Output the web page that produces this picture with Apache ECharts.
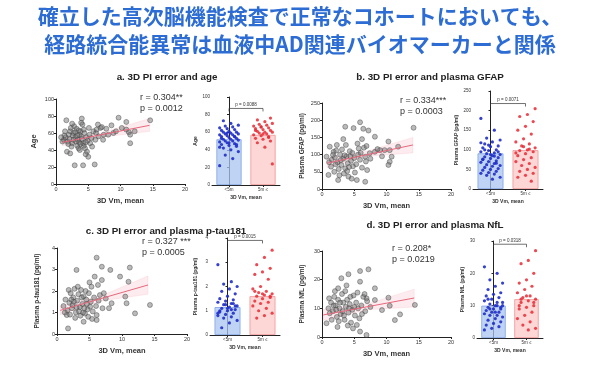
<!DOCTYPE html>
<html><head><meta charset="utf-8">
<script src="https://cdn.jsdelivr.net/npm/echarts/dist/echarts.min.js"></script>
<style>html,body{margin:0;padding:0;background:#fff}#c{width:600px;height:368px}</style>
</head><body><div id="c"></div>
<script>
const titleLines = ['確立した高次脳機能検査で正常なコホートにおいても、', '経路統合能異常は血液中AD関連バイオマーカーと関係'];
const panelTitles = ['a. 3D PI error and age', 'b. 3D PI error and plasma GFAP', 'c. 3D PI error and plasma p-tau181', 'd. 3D PI error and plasma NfL'];
const yNames = ['Age', 'Plasma GFAP (pg/ml)', 'Plasma p-tau181 (pg/ml)', 'Plasma NfL (pg/ml)'];
const xName = '3D Vm, mean';
const groupCats = ['<5m', '5m ≤'];
const rTexts = ['r = 0.304**', 'r = 0.334***', 'r = 0.327 ***', 'r = 0.208*'];
const pTexts = ['p = 0.0012', 'p = 0.0003', 'p = 0.0005', 'p = 0.0219'];
const groupPTexts = ['p = 0.0088', 'p = 0.0071', 'p = 0.0015', 'p = 0.0318'];
const yMax = [100, 250, 4, 30];
const yStep = [20, 50, 1, 10];
const xMax = 20, xStep = 5;

const scatterA = [[1.2,52],[1.5,55],[1.8,50],[2.0,58],[2.2,62],[2.5,48],[2.7,60],[3.0,55],[3.2,65],[3.4,52],[3.6,58],[3.8,62],[4.0,77],[4.1,70],[3.9,72],[1.6,75],[2.8,68],[3.3,45],[3.5,42],[3.7,40],[4.2,48],[4.5,42],[4.8,38],[5.0,32],[4.6,35],[4.3,45],[2.4,44],[1.7,38],[2.2,36],[2.9,22],[4.2,22],[6.0,23],[1.0,50],[1.3,57],[2.1,53],[2.6,57],[3.1,50],[3.5,63],[3.9,56],[4.4,60],[4.7,55],[5.2,58],[5.5,54],[5.3,48],[5.8,62],[6.2,60],[6.3,64],[6.6,56],[6.9,66],[7.1,67],[7.4,58],[7.8,65],[7.3,52],[8.1,58],[8.6,69],[8.9,60],[9.7,78],[10.2,66],[10.9,73],[10.9,64],[11.3,61],[11.5,58],[11.5,48],[12.2,62],[14.6,75],[0.8,55],[1.9,47],[2.3,66],[3.0,61],[3.6,49],[4.0,53],[4.9,51],[5.6,44],[6.1,52],[2.7,52],[3.3,57],[4.3,64],[5.1,66],[1.4,62],[2.5,71],[3.8,47],[4.6,49],[6.5,70],[9.3,62]];
const scatterB = [[3.6,181],[4.9,177],[5.9,194],[6.4,175],[7.2,170],[3.3,145],[6.2,145],[8.2,152],[10.3,138],[14.2,178],[11.8,123],[10.5,113],[9.7,113],[9.0,113],[8.2,108],[7.4,104],[6.7,94],[10.8,94],[10.5,79],[10.3,70],[6.7,21],[5.4,26],[4.1,36],[2.5,26],[1.0,41],[0.7,94],[1.2,123],[2.3,128],[1.8,108],[1.5,85],[2.0,92],[2.4,78],[2.8,100],[3.0,70],[3.3,88],[3.6,60],[3.8,95],[4.0,75],[4.3,110],[4.5,82],[4.8,66],[5.0,90],[5.3,72],[5.6,100],[5.9,85],[6.2,62],[6.5,120],[6.8,80],[7.0,55],[1.4,65],[1.9,50],[2.6,58],[3.1,115],[3.4,45],[3.9,52],[4.4,95],[5.1,48],[5.7,118],[6.0,105],[7.5,88],[2.1,72],[2.9,84],[3.5,98],[4.2,64],[4.7,105],[1.1,78],[1.7,99],[2.2,112],[3.7,128],[5.5,132],[6.9,125],[8.6,116],[9.3,95],[2.7,40],[4.6,30]];
const scatterC = [[6.1,3.55],[3.0,2.98],[6.9,3.13],[8.2,2.98],[9.7,2.67],[11.2,3.09],[11.0,2.43],[5.8,2.67],[6.9,2.51],[6.3,2.28],[5.3,2.2],[6.6,1.81],[8.4,1.43],[10.7,1.43],[12.0,0.96],[14.3,1.35],[10.5,1.74],[5.1,1.27],[6.1,0.88],[6.1,0.65],[1.7,0.26],[1.5,0.88],[4.1,0.57],[1.0,1.3],[1.3,1.6],[1.6,1.1],[1.9,1.45],[2.1,1.9],[2.3,1.2],[2.5,1.7],[2.7,2.1],[2.9,1.0],[3.1,1.55],[3.3,1.85],[3.5,1.25],[3.7,2.05],[3.9,1.4],[4.1,1.75],[4.3,0.95],[4.5,1.6],[4.7,1.15],[4.9,1.9],[5.2,1.5],[5.5,1.05],[5.7,1.7],[6.0,1.3],[6.4,1.55],[7.0,1.2],[7.5,1.65],[2.0,0.9],[2.4,1.35],[2.8,0.75],[3.2,2.2],[3.6,0.85],[4.0,1.0],[4.4,2.0],[4.8,0.8],[1.2,1.0],[1.8,2.05],[2.6,1.5],[3.4,1.05],[3.8,1.7],[4.6,1.4],[5.0,2.4],[5.4,0.7],[7.2,1.9],[8.0,1.2],[2.2,1.6],[3.0,1.25],[4.2,1.2]];
const scatterD = [[3.0,20.5],[4.1,21.9],[5.9,23],[7.2,23.6],[2.5,17],[5.9,19.3],[8.2,17],[6.9,13.5],[8.2,12.9],[10.3,13.7],[10.5,10.9],[9.3,9.4],[12.1,7.9],[11.3,5.9],[14.4,11.2],[5.9,1.9],[6.9,0.7],[5.4,4.2],[0.7,4.8],[1.2,8.3],[1.0,10],[1.4,12],[1.7,9],[1.9,14],[2.1,11],[2.3,7],[2.5,13],[2.7,10],[2.9,8],[3.1,15],[3.3,12],[3.5,6],[3.7,10.5],[3.9,13],[4.1,8.5],[4.3,11.5],[4.5,5],[4.7,9.5],[4.9,14.5],[5.1,7.5],[5.3,12],[5.6,10],[5.8,6.5],[6.1,11],[6.4,14],[6.7,9],[7.0,12.5],[1.5,6],[2.0,16],[2.6,5.5],[3.2,9],[3.6,16],[4.0,4],[4.4,14],[4.8,3],[5.0,10.5],[5.5,15.5],[6.2,8],[2.2,9.5],[2.8,12],[3.4,7.5],[4.2,10],[1.1,13.5],[1.8,11],[6.6,15],[7.5,10.5],[3.8,18],[2.4,3.5]];

const regA = [[1.0,49],[14.5,69]];
const regB = [[0.8,75],[14.1,128]];
const regC = [[0.5,1.1],[14.0,2.28]];
const regD = [[0.2,7.7],[14.3,13.6]];
const bandLoA = [[1.0,45],[7,55],[14.5,62]], bandHiA = [[1.0,53],[7,60],[14.5,77]];
const bandLoB = [[0.8,62],[7,95],[14.1,105]], bandHiB = [[0.8,88],[7,110],[14.1,150]];
const bandLoC = [[0.5,0.9],[7,1.55],[14.0,1.85]], bandHiC = [[0.5,1.3],[7,1.8],[14.0,2.7]];
const bandLoD = [[0.2,5.8],[7,9.5],[14.3,10.5]], bandHiD = [[0.2,9.6],[7,11.5],[14.3,16.7]];

const barA = [52, 57], barB = [91, 99], barC = [1.15, 1.6], barD = [10, 12];
const bracketY = [87, 218, 3.9, 29];
const dotsALo = [22,30,34,38,40,42,44,45,46,47,48,49,50,50,51,52,52,53,54,55,55,56,57,57,58,58,59,60,60,61,62,63,64,65,66,67,68,70,73,46,48,53,55,59,43];
const dotsAHi = [24,43,48,50,52,53,55,56,57,58,59,60,60,61,62,63,64,65,66,67,68,69,70,72,74,76,58,62,54,66];
const dotsBLo = [180,150,130,125,120,115,110,108,105,100,98,95,92,90,88,85,82,80,78,75,72,70,68,65,62,60,58,55,52,50,48,45,42,40,38,35,30,25,100,95,88,76,66,112,118,84];
const dotsBHi = [205,190,185,172,160,150,140,128,120,115,110,105,100,98,95,90,85,80,75,70,65,60,55,50,45,40,35,30,20,108,92,102];
const dotsCLo = [2.9,2.2,2.1,2.0,1.9,1.8,1.7,1.6,1.5,1.45,1.4,1.35,1.3,1.25,1.2,1.15,1.1,1.05,1.0,0.95,0.9,0.85,0.8,0.75,0.7,0.6,0.5,0.3,1.2,1.1,1.0,1.3,1.25,0.9,1.05];
const dotsCHi = [3.5,3.2,2.9,2.75,2.6,2.5,2.3,2.0,1.9,1.8,1.75,1.7,1.65,1.6,1.55,1.5,1.4,1.35,1.3,1.2,1.1,1.0,0.9,0.8,0.7,1.6,1.7,1.8];
const dotsDLo = [22,20,18,17,16,15,14,13.5,13,12.5,12,11.5,11,10.5,10,10,9.5,9,9,8.5,8,8,7.5,7,7,6.5,6,5.5,5,4.5,4,3.5,3,2.5,10,9,11,8,12,9.5];
const dotsDHi = [27,24,23,20,18,17,16,15,14,13,12.5,12,11.5,11,10,9.5,9,8,7,6,5,4,3,2.5,12,11,13,10];

const panels = [
  {sc: scatterA, reg: regA, lo: bandLoA, hi: bandHiA, bar: barA, dLo: dotsALo, dHi: dotsAHi},
  {sc: scatterB, reg: regB, lo: bandLoB, hi: bandHiB, bar: barB, dLo: dotsBLo, dHi: dotsBHi},
  {sc: scatterC, reg: regC, lo: bandLoC, hi: bandHiC, bar: barC, dLo: dotsCLo, dHi: dotsCHi},
  {sc: scatterD, reg: regD, lo: bandLoD, hi: bandHiD, bar: barD, dLo: dotsDLo, dHi: dotsDHi}
];

// layout (pixels)
const scGrids = [{left:56,top:99,width:129,height:85},{left:322,top:103,width:129,height:86},{left:57,top:248,width:130,height:86},{left:322,top:251,width:129,height:86}];
const barGrids = [{left:212,top:97,width:68,height:88},{left:473,top:91,width:70,height:98},{left:210,top:238,width:70,height:97},{left:477,top:241,width:66,height:97}];
const titlePos = [[167,72],[430,72],[166,226],[435,220]];
const statPos = [[140,92],[400,95],[142,236],[392,243]];

const FONT = 'Liberation Sans, Arial, sans-serif';
const axisBase = {
  axisLine: {lineStyle: {color: '#222', width: 1}},
  axisTick: {show: true, length: 2, lineStyle: {color: '#222'}},
  axisLabel: {fontSize: 5.5, color: '#333', margin: 2, fontFamily: FONT},
  splitLine: {show: false}
};

const grid = [], xAxis = [], yAxis = [], series = [];
const title = [
  {text: titleLines[0], left: 300, top: 6, padding: 0, textAlign: 'center', textStyle: {fontFamily: 'Noto Sans CJK JP', fontWeight: 'bold', fontSize: 21, color: '#2d6dd3'}},
  {text: titleLines[1], left: 300, top: 34, padding: 0, textAlign: 'center', textStyle: {fontFamily: 'Noto Sans CJK JP', fontWeight: 'bold', fontSize: 21, color: '#2d6dd3'}}
];

function jitter(i) {
  const k = ((i * 7) % 11) - 5;
  return k * 0.055;
}

panels.forEach((p, k) => {
  grid.push(scGrids[k]);
  grid.push(barGrids[k]);
  const gS = 2 * k, gB = 2 * k + 1;
  xAxis.push(Object.assign({}, axisBase, {type: 'value', gridIndex: gS, min: 0, max: xMax, interval: xStep,
    name: xName, nameLocation: 'middle', nameGap: 13, nameTextStyle: {fontSize: 7.5, fontWeight: 'bold', color: '#333', fontFamily: FONT}}));
  xAxis.push(Object.assign({}, axisBase, {type: 'category', gridIndex: gB, data: groupCats,
    axisTick: {show: true, length: 2, alignWithLabel: true, lineStyle: {color: '#222'}},
    axisLabel: {fontSize: 4.5, color: '#333', margin: 2, fontFamily: FONT},
    name: xName, nameLocation: 'middle', nameGap: 10, nameTextStyle: {fontSize: 5, fontWeight: 'bold', color: '#333', fontFamily: FONT}}));
  xAxis.push({type: 'value', gridIndex: gB, min: -0.5, max: 1.5, show: false});
  yAxis.push(Object.assign({}, axisBase, {type: 'value', gridIndex: gS, min: 0, max: yMax[k], interval: yStep[k],
    name: yNames[k], nameLocation: 'middle', nameGap: k === 0 ? 18 : 16, nameRotate: 90,
    nameTextStyle: {fontSize: k === 0 ? 7.5 : 6.5, fontWeight: 'bold', color: '#333', fontFamily: FONT}}));
  yAxis.push(Object.assign({}, axisBase, {type: 'value', gridIndex: gB, min: 0, max: yMax[k], interval: yStep[k],
    axisLabel: {fontSize: 4.5, color: '#333', margin: 2, fontFamily: FONT},
    name: yNames[k], nameLocation: 'middle', nameGap: 12, nameRotate: 90,
    nameTextStyle: {fontSize: 5, fontWeight: 'bold', color: '#333', fontFamily: FONT}}));

  const xS = 3 * k, xB = 3 * k + 1, xD = 3 * k + 2, yS = 2 * k, yB = 2 * k + 1;
  // CI band as polygon through the library's coordinate system
  series.push({type: 'custom', xAxisIndex: xS, yAxisIndex: yS, data: p.lo, silent: true, z: 1,
    renderItem: (params, api) => {
      if (params.dataIndex !== 0) return null;
      const pts = p.lo.map(d => api.coord(d)).concat(p.hi.slice().reverse().map(d => api.coord(d)));
      return {type: 'polygon', shape: {points: pts}, style: {fill: 'rgba(240,120,140,0.14)', stroke: 'rgba(240,120,140,0.25)', lineWidth: 0.5}};
    }});
  series.push({type: 'scatter', xAxisIndex: xS, yAxisIndex: yS, data: p.sc, symbolSize: 5,
    itemStyle: {color: 'rgba(110,110,110,0.6)', borderColor: 'rgba(60,60,60,0.9)', borderWidth: 0.6}, z: 2});
  series.push({type: 'line', xAxisIndex: xS, yAxisIndex: yS, data: p.reg, symbol: 'none',
    lineStyle: {color: '#e8687c', width: 1}, z: 3});
  // bars
  series.push({type: 'bar', xAxisIndex: xB, yAxisIndex: yB, barWidth: '74%', z: 1,
    data: [
      {value: p.bar[0], itemStyle: {color: 'rgba(170,198,242,0.75)', borderColor: '#7fa3e6', borderWidth: 0.8}},
      {value: p.bar[1], itemStyle: {color: 'rgba(252,200,200,0.75)', borderColor: '#f09494', borderWidth: 0.8}}
    ]});
  series.push({type: 'scatter', xAxisIndex: xD, yAxisIndex: yB, symbolSize: 3.2, z: 3,
    data: p.dLo.map((v, i) => [0 + jitter(i), v]),
    itemStyle: {color: '#1f2ec8', opacity: 0.9}});
  series.push({type: 'scatter', xAxisIndex: xD, yAxisIndex: yB, symbolSize: 3.2, z: 3,
    data: p.dHi.map((v, i) => [1 + jitter(i + 3), v]),
    itemStyle: {color: '#e82a34', opacity: 0.85}});
  // significance bracket
  series.push({type: 'custom', xAxisIndex: xB, yAxisIndex: yB, data: [[0, bracketY[k]]], z: 4,
    renderItem: (params, api) => {
      const y = api.value(1);
      const a = api.coord([0, y]), b = api.coord([1, y]);
      return {type: 'group', children: [
        {type: 'polyline', shape: {points: [[a[0], a[1] + 3], [a[0], a[1]], [b[0], b[1]], [b[0], b[1] + 3]]},
          style: {stroke: '#333', lineWidth: 0.7, fill: null}},
        {type: 'text', style: {text: groupPTexts[k], x: (a[0] + b[0]) / 2, y: a[1] - 1, textAlign: 'center', textVerticalAlign: 'bottom',
          fontSize: 4.5, fill: '#333', fontFamily: FONT}}
      ]};
    }});

  title.push({text: panelTitles[k], left: titlePos[k][0], top: titlePos[k][1], padding: 0, textAlign: 'center',
    textStyle: {fontSize: 9.8, fontWeight: 'bold', color: '#222', fontFamily: FONT}});
  title.push({text: rTexts[k] + '\n' + pTexts[k], left: statPos[k][0], top: statPos[k][1], padding: 0,
    textStyle: {fontSize: 9, fontWeight: 'normal', color: '#333', fontFamily: FONT, lineHeight: 11}});
});

const chart = echarts.init(document.getElementById('c'));
chart.setOption({backgroundColor: '#fff', animation: false, title, grid, xAxis, yAxis, series});
</script></body></html>
